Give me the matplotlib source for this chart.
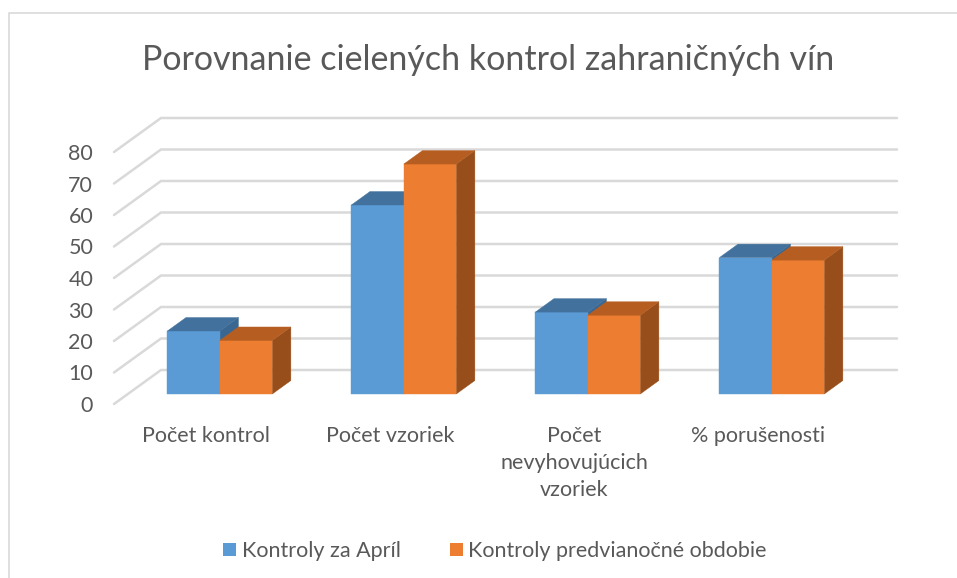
import matplotlib
matplotlib.use("Agg")
import matplotlib.pyplot as plt
from matplotlib.patches import Polygon, Patch
from matplotlib.lines import Line2D

# ---- data ----
categories = ["Počet kontrol", "Počet vzoriek", "Počet\nnevyhovujúcich\nvzoriek", "% porušenosti"]
series_names = ["Kontroly za Apríl", "Kontroly predvianočné obdobie"]
april = [20, 60, 26, 43.3]
christmas = [17, 73, 25, 42.5]
y_ticks = [0, 10, 20, 30, 40, 50, 60, 70, 80]
title = "Porovnanie cielených kontrol zahraničných vín"

# ---- styling ----
W, H = 957, 578
TXT = "#595959"
GRID = "#D9D9D9"
FONT = "Lato"
FS = 15.5
colors = [
    {"front": "#5B9BD5", "top": "#41719C", "side": "#3A6791"},
    {"front": "#ED7D31", "top": "#B65E22", "side": "#984E1B"},
]

fig = plt.figure(figsize=(W / 100, H / 100), dpi=100)
fig.patch.set_facecolor("white")

# front plane of the plot: x 114..850 px, value 0..80 at y 404..152 px
left_px, right_px, bot_px, top_px = 114, 850, 404, 152
ax = fig.add_axes([left_px / W, 1 - bot_px / H, (right_px - left_px) / W, (bot_px - top_px) / H])
ax.set_xlim(0, len(categories))
ax.set_ylim(0, 80)
for s in ax.spines.values():
    s.set_visible(False)
ax.patch.set_visible(False)

# depth vector in data units
px_per_x = (right_px - left_px) / len(categories)
px_per_y = (bot_px - top_px) / 80.0
DX = 47 / px_per_x
DY = 34 / px_per_y

def proj(x, v, d):
    return (x + d * DX, v + d * DY)

# gridlines: left wall diagonals + back wall horizontals
for v in y_ticks:
    x0, y0 = proj(0, v, 0)
    x1, y1 = proj(0, v, 1)
    x2, y2 = proj(len(categories), v, 1)
    ax.add_line(Line2D([x0, x1, x2], [y0, y1, y2], color=GRID, lw=1.8,
                       solid_capstyle="round", solid_joinstyle="miter", clip_on=False, zorder=1))

# bars
f0, f1 = 0.294, 0.69
bw = 0.285
start = 0.215
z = 2
for i in range(len(categories)):
    for j, vals in enumerate([april, christmas]):
        v = vals[i]
        xl = i + start + j * bw
        xr = xl + bw
        c = colors[j]
        front = [proj(xl, 0, f0), proj(xr, 0, f0), proj(xr, v, f0), proj(xl, v, f0)]
        top = [proj(xl, v, f0), proj(xr, v, f0), proj(xr, v, f1), proj(xl, v, f1)]
        side = [proj(xr, 0, f0), proj(xr, 0, f1), proj(xr, v, f1), proj(xr, v, f0)]
        for pts, col in ((side, c["side"]), (front, c["front"]), (top, c["top"])):
            ax.add_patch(Polygon(pts, closed=True, facecolor=col, edgecolor=col,
                                 lw=0.3, clip_on=False, zorder=z))
        z += 1

# y ticks
ax.set_yticks(y_ticks)
ax.set_yticklabels([str(t) for t in y_ticks], fontsize=FS, color=TXT, family=FONT)
ax.tick_params(axis="y", length=0, pad=15)

# category labels at front plane
ax.set_xticks([i + 0.5 for i in range(len(categories))])
ax.set_xticklabels(categories, fontsize=FS, color=TXT, family=FONT, linespacing=1.45, va="top")
ax.tick_params(axis="x", length=0, pad=15.5)

# title
fig.text(488 / W, 1 - 60 / H, title, ha="center", va="center", fontsize=24.5,
         color=TXT, family=FONT)

# legend
handles = [Patch(facecolor=colors[k]["front"], edgecolor="none", label=series_names[k]) for k in range(2)]
leg = fig.legend(handles=handles, loc="center", bbox_to_anchor=(495 / W, 1 - 551 / H), ncol=2,
                 frameon=False, handlelength=0.6, handleheight=0.6, handletextpad=0.25,
                 columnspacing=2.3, prop={"family": FONT, "size": FS})
for t in leg.get_texts():
    t.set_color(TXT)

# chart border
fig.add_artist(Line2D([9 / W, 9 / W, 1.01], [-0.01, 1 - 13 / H, 1 - 13 / H],
                      transform=fig.transFigure, color="#D9D9D9", lw=1.2))

fig.savefig("out.png", dpi=100, facecolor="white")
